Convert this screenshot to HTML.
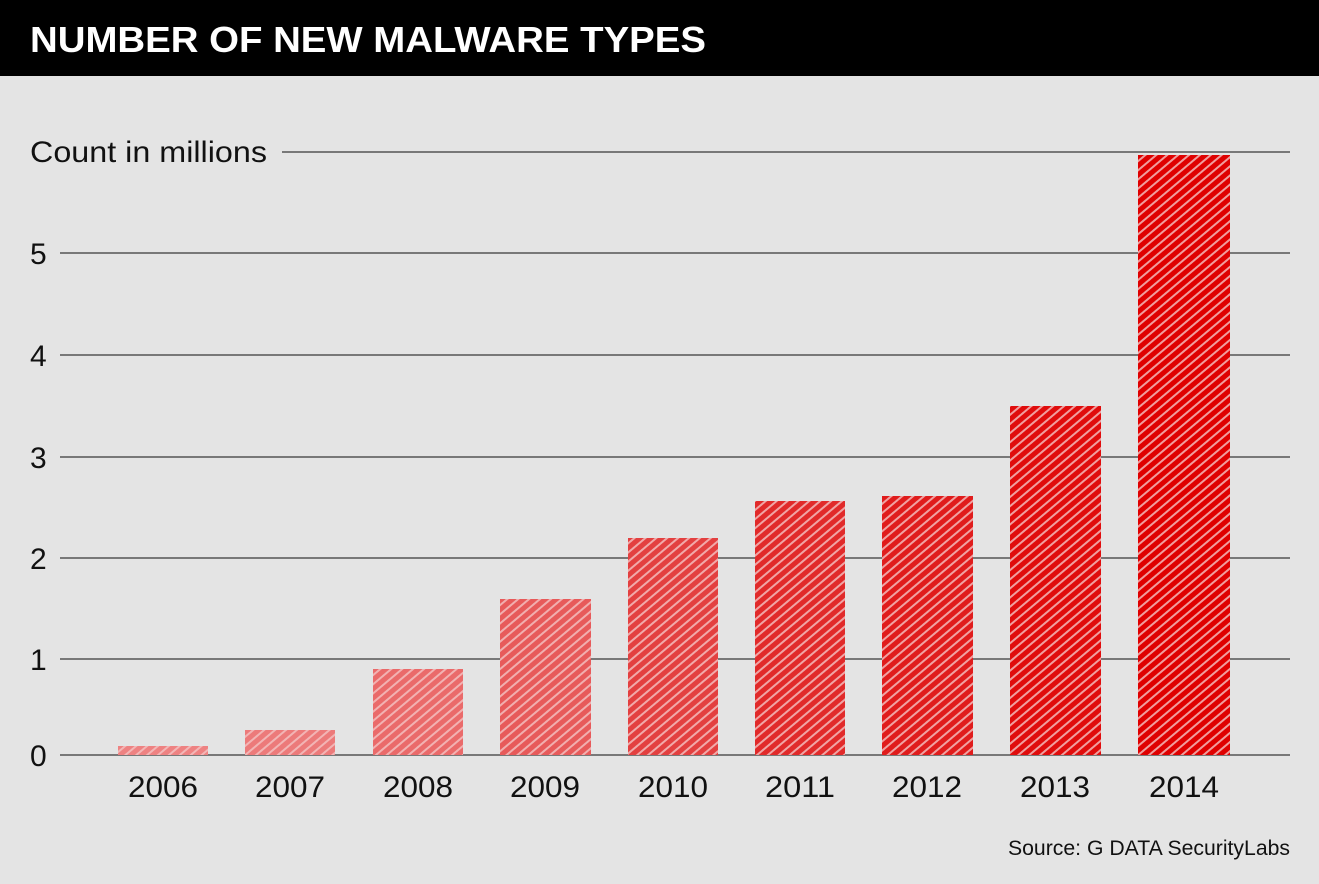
<!DOCTYPE html>
<html><head><style>
body{margin:0;background:#e4e4e4;}
svg{display:block}
</style></head><body>
<svg width="1319" height="884" viewBox="0 0 1319 884" xmlns="http://www.w3.org/2000/svg" font-family="Liberation Sans, sans-serif">
<defs>
<pattern id="h" width="7" height="7" patternUnits="userSpaceOnUse" patternTransform="rotate(50)">
<rect width="2" height="7" fill="#f4c4c4"/>
</pattern>
</defs>
<rect width="1319" height="884" fill="#e4e4e4"/>
<rect width="1319" height="76" fill="#000"/>
<text x="30" y="52" fill="#fff" font-size="36" font-weight="bold" textLength="676" lengthAdjust="spacingAndGlyphs">NUMBER OF NEW MALWARE TYPES</text>
<g stroke="#555" stroke-width="1.5">
<line x1="282" y1="152" x2="1290" y2="152"/>
<line x1="60" y1="253" x2="1290" y2="253"/>
<line x1="60" y1="355" x2="1290" y2="355"/>
<line x1="60" y1="457" x2="1290" y2="457"/>
<line x1="60" y1="558" x2="1290" y2="558"/>
<line x1="60" y1="659" x2="1290" y2="659"/>
<line x1="60" y1="755" x2="1290" y2="755"/>
</g>
<g font-size="30" fill="#111">
<text x="30" y="162" textLength="237" lengthAdjust="spacingAndGlyphs">Count in millions</text>
<text x="30" y="264">5</text><text x="30" y="366">4</text><text x="30" y="468">3</text>
<text x="30" y="569">2</text><text x="30" y="670">1</text><text x="30" y="766">0</text>
</g>
<g>
<rect x="118" y="746" width="90" height="9" fill="#ee8282"/>
<rect x="245" y="730" width="90" height="25" fill="#ec7a7a"/>
<rect x="373" y="669" width="90" height="86" fill="#ea6a6a"/>
<rect x="500" y="599" width="91" height="156" fill="#e75a5a"/>
<rect x="628" y="538" width="90" height="217" fill="#e34040"/>
<rect x="755" y="501" width="90" height="254" fill="#e12a2a"/>
<rect x="882" y="496" width="91" height="259" fill="#e01c1c"/>
<rect x="1010" y="406" width="91" height="349" fill="#e00c0c"/>
<rect x="1138" y="155" width="92" height="600" fill="#df0000"/>
</g>
<g fill="url(#h)" fill-opacity="0.8">
<rect x="118" y="746" width="90" height="9"/>
<rect x="245" y="730" width="90" height="25"/>
<rect x="373" y="669" width="90" height="86"/>
<rect x="500" y="599" width="91" height="156"/>
<rect x="628" y="538" width="90" height="217"/>
<rect x="755" y="501" width="90" height="254"/>
<rect x="882" y="496" width="91" height="259"/>
<rect x="1010" y="406" width="91" height="349"/>
<rect x="1138" y="155" width="92" height="600"/>
</g>
<g font-size="30" fill="#111" text-anchor="middle">
<text x="163" y="797" textLength="70" lengthAdjust="spacingAndGlyphs">2006</text><text x="290" y="797" textLength="70" lengthAdjust="spacingAndGlyphs">2007</text><text x="418" y="797" textLength="70" lengthAdjust="spacingAndGlyphs">2008</text>
<text x="545" y="797" textLength="70" lengthAdjust="spacingAndGlyphs">2009</text><text x="673" y="797" textLength="70" lengthAdjust="spacingAndGlyphs">2010</text><text x="800" y="797" textLength="70" lengthAdjust="spacingAndGlyphs">2011</text>
<text x="927" y="797" textLength="70" lengthAdjust="spacingAndGlyphs">2012</text><text x="1055" y="797" textLength="70" lengthAdjust="spacingAndGlyphs">2013</text><text x="1184" y="797" textLength="70" lengthAdjust="spacingAndGlyphs">2014</text>
</g>
<text x="1290" y="855" font-size="21" fill="#111" text-anchor="end" textLength="282" lengthAdjust="spacingAndGlyphs">Source: G DATA SecurityLabs</text>
</svg>
</body></html>
